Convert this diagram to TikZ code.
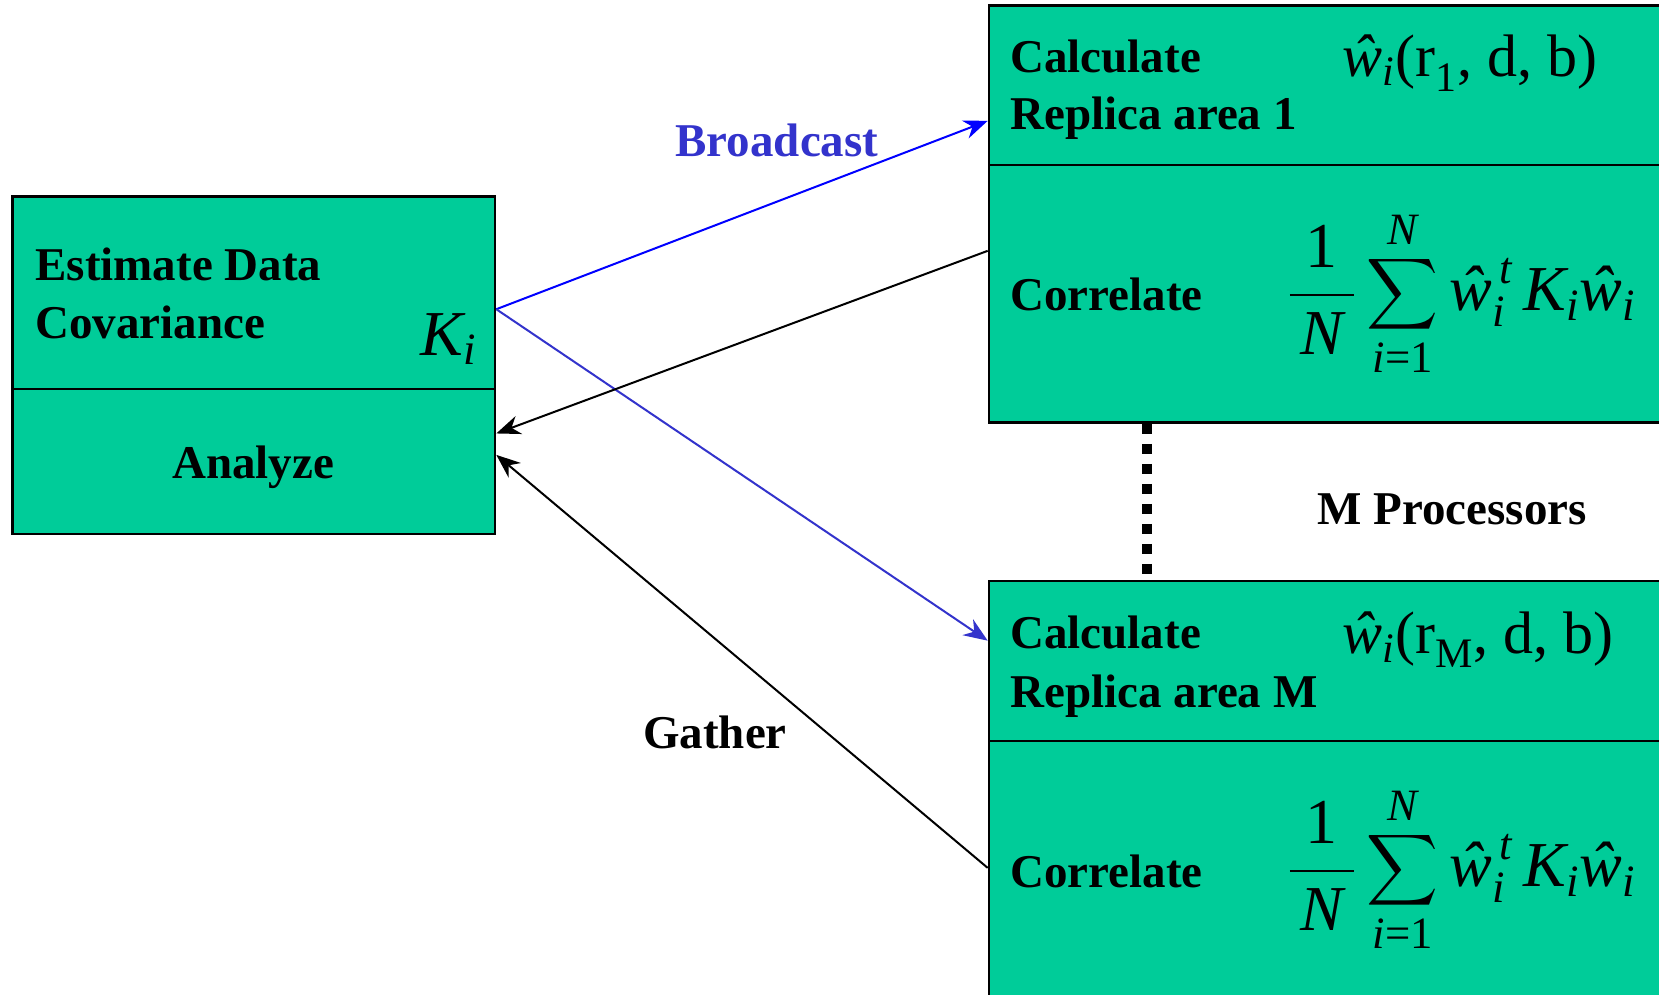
\documentclass[tikz,border=0pt]{standalone}
\usepackage{fix-cm}
\usepackage{amsmath}
\usepackage{fontspec}
\setmainfont{Liberation Serif}
\usetikzlibrary{arrows.meta,calc}
\definecolor{boxgreen}{RGB}{0,204,153}
\definecolor{bcblue}{RGB}{51,51,204}
\definecolor{pureblue}{RGB}{0,0,255}
\newcommand{\iv}[1]{\text{\itshape #1}}
\newcommand{\corrformula}{$\displaystyle\frac{\,\text{1}\,}{\,\iv{N}\,}\sum_{\iv{i}\text{=1}}^{\iv{N}}\iv{ŵ}_{\iv{i}}^{\,\iv{t}}\,\iv{K}_{\iv{i}}\iv{ŵ}_{\iv{i}}$}
\tikzset{
  panel/.style={draw=black, line width=1.3pt, fill=boxgreen, rectangle, inner sep=0pt},
  lbl/.style={font=\fontsize{23.5}{28}\selectfont\bfseries, inner sep=0pt, anchor=base west},
  fml/.style={font=\fontsize{30}{36}\selectfont, inner sep=0pt, anchor=base west},
  bigfml/.style={font=\fontsize{32}{38}\selectfont, inner sep=0pt, anchor=west},
  conn/.style={line width=1pt, -{Stealth[length=12pt,width=9.5pt]}},
}
\begin{document}
\begin{tikzpicture}[x=0.5pt,y=-0.5pt]
\useasboundingbox (0,0) rectangle (1659,995);
\clip (0,0) rectangle (1659,995);
\fill[white] (0,0) rectangle (1659,995);
% boxes
\node[panel, minimum width=241.15pt, minimum height=96.15pt] (est) at (253.85,292.85) {};
\node[panel, minimum width=241.15pt, minimum height=72.5pt] (ana) at (253.85,461.5) {};
\node[panel, minimum width=365.5pt, minimum height=79.85pt] (cal1) at (1354.5,85.15) {};
\node[panel, minimum width=365.5pt, minimum height=128.75pt] (cor1) at (1354.5,293.75) {};
\node[panel, minimum width=365.5pt, minimum height=80pt] (calM) at (1354.5,661) {};
\node[panel, minimum width=365.5pt, minimum height=149.5pt] (corM) at (1354.5,890.5) {};
% left texts
\node[lbl] (t1) at (35,280) {Estimate Data};
\node[lbl] (t2) at (35,338) {Covariance};
\node[font=\fontsize{32}{38}\selectfont, inner sep=0pt, anchor=base west] (ki) at (420,355) {$\iv{K}_{\iv{i}}$};
\node[font=\fontsize{23.5}{28}\selectfont\bfseries, inner sep=0pt, anchor=base] (an) at (253,478) {Analyze};
% top right texts
\node[lbl] (c1) at (1010,73) {Calculate};
\node[lbl] (r1) at (1010,130) {Replica area 1};
\node[fml] (f1) at (1342,77) {$\iv{ŵ}_{\iv{i}}\text{(r}_{\text{1}}\text{, d, b)}$};
\node[lbl] (co1) at (1010,310) {Correlate};
\node[bigfml] (s1) at (1287,294) {\corrformula};
% bottom right texts
\node[lbl] (cM) at (1010,648) {Calculate};
\node[lbl] (rM) at (1010,707) {Replica area M};
\node[fml] (fM) at (1342,653) {$\iv{ŵ}_{\iv{i}}\text{(r}_{\text{M}}\text{, d, b)}$};
\node[lbl] (coM) at (1010,887) {Correlate};
\node[bigfml] (sM) at (1287,870) {\corrformula};
% free labels
\node[lbl, anchor=base, text=bcblue] (bc) at (777,156) {Broadcast};
\node[lbl, anchor=base] (ga) at (715,748) {Gather};
\node[lbl, anchor=base] (mp) at (1452,524) {M Processors};
% dotted link
\draw[line width=5pt, dash pattern=on 5pt off 5pt] ($(cor1.south west)+(159,0)$) -- ($(calM.north west)+(159,0)$);
% connectors
\coordinate (kout) at ($(est.north east)!0.584!(est.south east)$);
\draw[conn, draw=pureblue, fill=pureblue] (kout) -- ($(cal1.north west)!0.72!(cal1.south west)$);
\draw[conn, draw=bcblue, fill=bcblue] (kout) -- ($(calM.north west)!0.375!(calM.south west)$);
\draw[conn] ($(cor1.north west)!0.335!(cor1.south west)$) -- ($(ana.north east)!0.31!(ana.south east)$);
\draw[conn] ($(corM.north west)!0.425!(corM.south west)$) -- ($(ana.north east)!0.455!(ana.south east)$);
\end{tikzpicture}
\end{document}
